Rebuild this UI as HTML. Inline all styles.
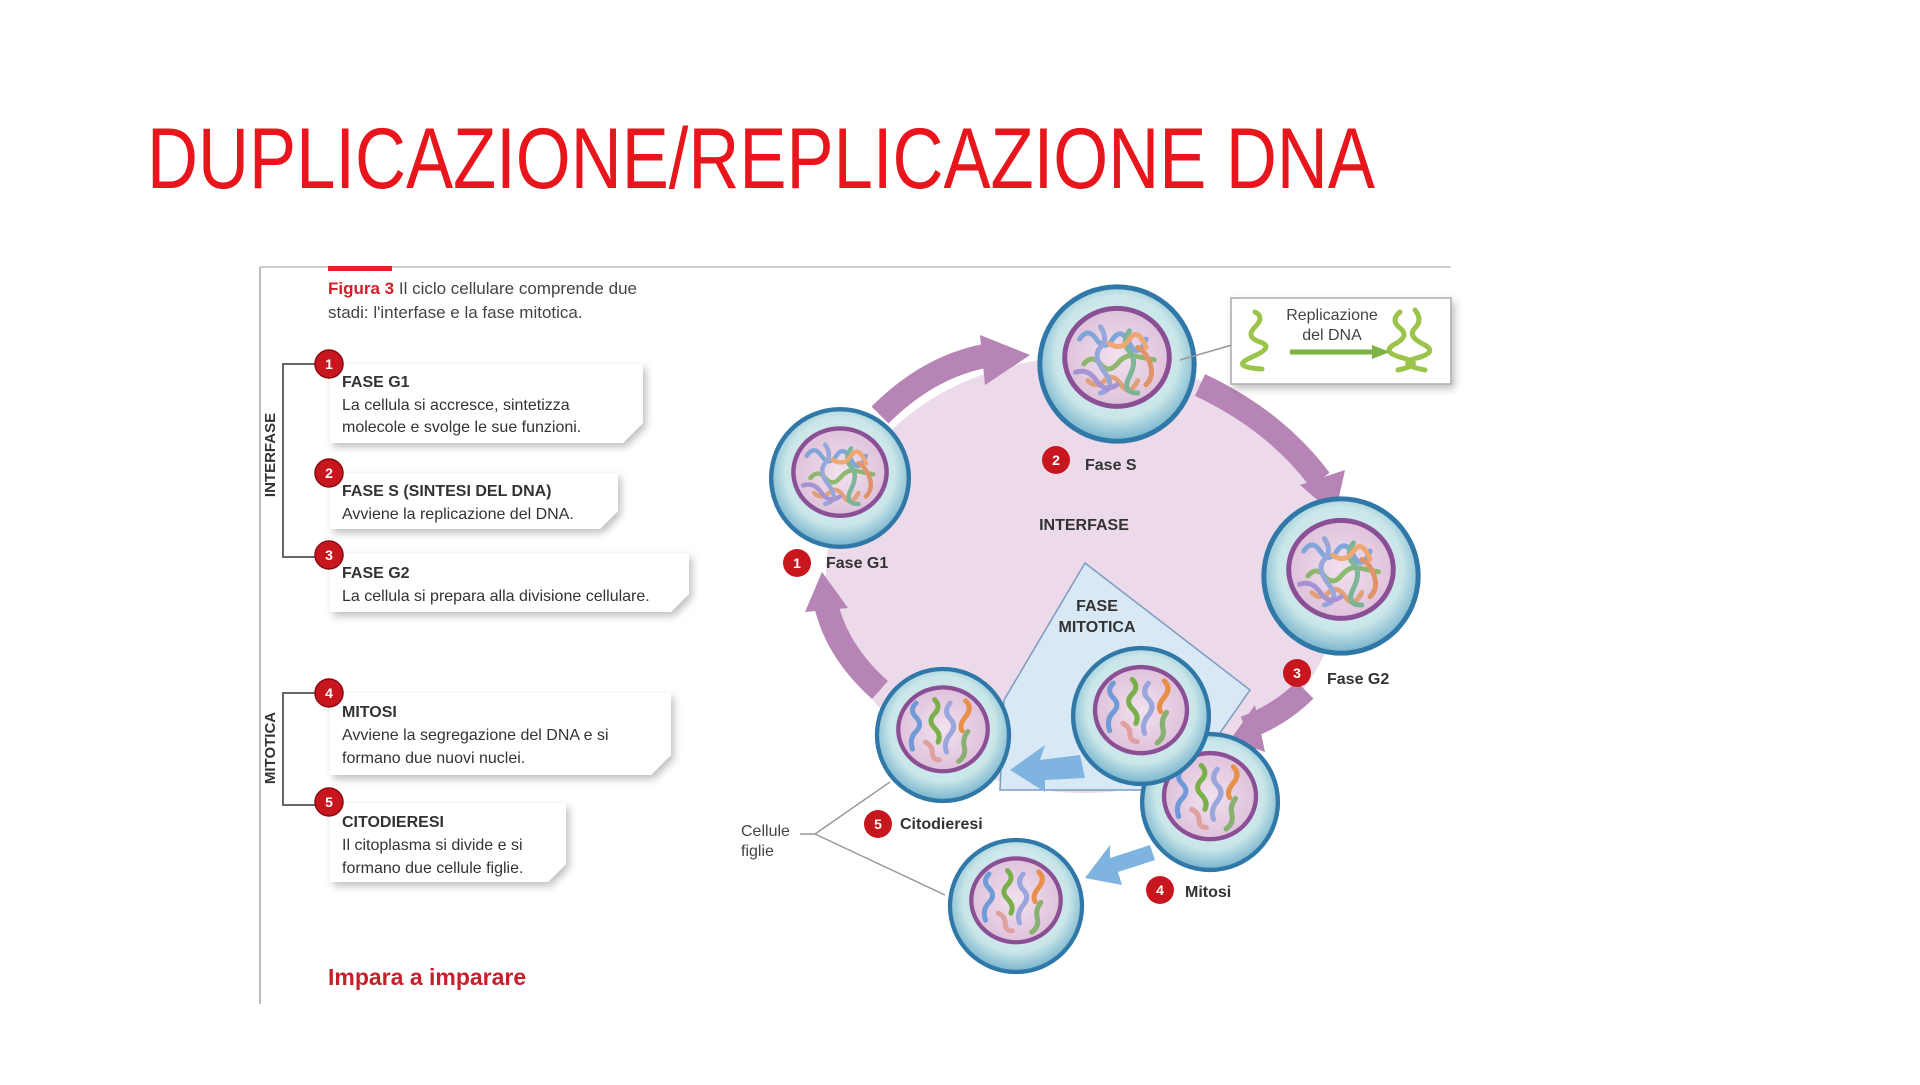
<!DOCTYPE html>
<html><head><meta charset="utf-8"><style>
html,body{margin:0;padding:0;background:#fff;}
body{width:1920px;height:1080px;overflow:hidden;position:relative;font-family:"Liberation Sans",sans-serif;}
svg text{font-family:"Liberation Sans",sans-serif;}
</style></head><body>
<svg width="1920" height="1080" viewBox="0 0 1920 1080" xmlns="http://www.w3.org/2000/svg">
<defs>
<radialGradient id="cyto" cx="50%" cy="45%" r="55%">
<stop offset="0" stop-color="#e6f4f4"/><stop offset="0.75" stop-color="#c9e6e8"/><stop offset="1" stop-color="#7fb8d0"/></radialGradient>
<radialGradient id="nuc" cx="50%" cy="50%" r="50%">
<stop offset="0" stop-color="#f1e1ee"/><stop offset="1" stop-color="#e0c3dc"/></radialGradient>
<filter id="sh" x="-10%" y="-10%" width="130%" height="140%"><feDropShadow dx="3" dy="4" stdDeviation="4" flood-color="#000" flood-opacity="0.25"/></filter>
<symbol id="cellI" viewBox="-100 -100 200 200">
<circle r="96" fill="#2f78a8"/><circle r="90" fill="url(#cyto)"/>
<ellipse cx="0" cy="-8" rx="66" ry="62" fill="#8b4f96"/><ellipse cx="0" cy="-8" rx="60" ry="56" fill="url(#nuc)"/>
<g fill="none" stroke-width="6" stroke-linecap="round" opacity="0.85">
<path d="M-45 -30 q10 -15 20 0 t20 0 t20 5 t20 -5" stroke="#6fa0d8"/>
<path d="M-40 0 q10 -12 20 0 t20 0 t20 -10 t25 5" stroke="#7fb35a"/>
<path d="M-35 20 q10 10 20 0 t20 5 t20 -5" stroke="#e09a66"/>
<path d="M-20 -45 q10 15 0 25 t5 30 t-5 25" stroke="#8aa0d8"/>
<path d="M15 -40 q-10 15 0 25 t0 30 t10 20" stroke="#6ab08a"/>
<path d="M25 -20 q10 5 15 20 t-5 25" stroke="#e08a55"/>
<path d="M-50 10 q15 -5 25 10 t25 5" stroke="#9a8ad0"/>
<path d="M-10 -25 q15 10 25 -5 t20 10" stroke="#f0a060"/>
</g></symbol>
<symbol id="cellM" viewBox="-100 -100 200 200">
<circle r="96" fill="#2f78a8"/><circle r="90" fill="url(#cyto)"/>
<ellipse cx="0" cy="-8" rx="66" ry="62" fill="#8b4f96"/><ellipse cx="0" cy="-8" rx="60" ry="56" fill="url(#nuc)"/>
<g fill="none" stroke-width="7" stroke-linecap="round">
<path d="M-38 -45 q-10 10 0 20 t0 20 t-5 25" stroke="#6f9ad8"/>
<path d="M-12 -50 q10 10 0 20 t0 20 t5 20" stroke="#7ab04a"/>
<path d="M10 -45 q-10 12 0 22 t0 22 t-5 25" stroke="#9aa6dc"/>
<path d="M32 -48 q10 10 0 22 t-5 20" stroke="#e8904a"/>
<path d="M-25 10 q10 5 10 15 t10 10" stroke="#e0a0a0"/>
<path d="M35 -5 q-8 10 -5 22 t-8 20" stroke="#88b070"/>
</g></symbol>
</defs>

<!-- Title -->
<text x="147" y="188" font-size="86" fill="#e8161c" textLength="1228" lengthAdjust="spacingAndGlyphs">DUPLICAZIONE/REPLICAZIONE DNA</text>

<!-- frame -->
<line x1="260" y1="267" x2="1451" y2="267" stroke="#cfcfcf" stroke-width="2"/>
<line x1="260" y1="267" x2="260" y2="1004" stroke="#bdbdbd" stroke-width="2"/>
<rect x="328" y="266" width="64" height="5" fill="#e3202a"/>
<text x="328" y="294" font-size="17" fill="#444"><tspan fill="#d0202a" font-weight="bold">Figura 3</tspan> Il ciclo cellulare comprende due</text>
<text x="328" y="318" font-size="17" fill="#444">stadi: l'interfase e la fase mitotica.</text>

<!-- brackets -->
<path d="M328 364 H283 V557 H328" fill="none" stroke="#666" stroke-width="2"/>
<path d="M328 693 H283 V805 H328" fill="none" stroke="#666" stroke-width="2"/>
<text transform="translate(275,455) rotate(-90)" font-size="15" font-weight="bold" fill="#333" text-anchor="middle">INTERFASE</text>
<text transform="translate(275,748) rotate(-90)" font-size="15" font-weight="bold" fill="#333" text-anchor="middle">MITOTICA</text>

<!-- boxes -->
<g filter="url(#sh)" fill="#fff">
<path d="M330 364 H643 V423 L623 443 H330 Z"/>
<path d="M330 473 H618 V511 L600 529 H330 Z"/>
<path d="M330 553 H689 V594 L671 612 H330 Z"/>
<path d="M330 693 H671 V755 L651 775 H330 Z"/>
<path d="M330 803 H566 V864 L548 882 H330 Z"/>
</g>
<g fill="#c8161e" stroke="#8a0a10" stroke-width="1.5">
<circle cx="329" cy="364" r="14"/><circle cx="329" cy="473" r="14"/><circle cx="329" cy="555" r="14"/>
<circle cx="329" cy="693" r="14"/><circle cx="329" cy="802" r="14"/>
</g>
<g fill="#fff" font-size="14" font-weight="bold" text-anchor="middle">
<text x="329" y="369">1</text><text x="329" y="478">2</text><text x="329" y="560">3</text><text x="329" y="698">4</text><text x="329" y="807">5</text>
</g>
<g font-size="16" fill="#333">
<text x="342" y="387" font-weight="bold">FASE G1</text>
<text x="342" y="410">La cellula si accresce, sintetizza</text>
<text x="342" y="432">molecole e svolge le sue funzioni.</text>
<text x="342" y="496" font-weight="bold">FASE S (SINTESI DEL DNA)</text>
<text x="342" y="519">Avviene la replicazione del DNA.</text>
<text x="342" y="578" font-weight="bold">FASE G2</text>
<text x="342" y="601">La cellula si prepara alla divisione cellulare.</text>
<text x="342" y="717" font-weight="bold">MITOSI</text>
<text x="342" y="740">Avviene la segregazione del DNA e si</text>
<text x="342" y="763">formano due nuovi nuclei.</text>
<text x="342" y="827" font-weight="bold">CITODIERESI</text>
<text x="342" y="850">Il citoplasma si divide e si</text>
<text x="342" y="873">formano due cellule figlie.</text>
</g>
<text x="328" y="985" font-size="23" font-weight="bold" fill="#c8202a">Impara a imparare</text>

<!-- diagram -->
<ellipse cx="1084" cy="575" rx="258" ry="218" fill="#ecd9ea"/>
<polygon points="1085,563 1250,690 1180,790 1000,790 1004,700" fill="#d8e9f5" stroke="#7a9cc0" stroke-width="1.5"/>
<!-- purple arrows -->
<g fill="none" stroke="#b784b6" stroke-width="24">
<path d="M880 415 Q930 365 990 355"/>
<path d="M1200 385 Q1275 420 1320 480"/>
<path d="M1305 690 Q1280 715 1245 728"/>
<path d="M880 690 Q835 650 825 600"/>
</g>
<g fill="#b784b6">
<polygon points="980,335 1030,355 985,385"/>
<polygon points="1300,485 1345,470 1335,515"/>
<polygon points="1255,705 1230,740 1265,752"/>
<polygon points="805,612 822,572 848,608"/>
</g>
<!-- blue arrows -->
<g fill="#7fb4e0">
<path d="M1080 755 L1040 760 L1045 745 L1010 770 L1045 792 L1045 780 L1085 778 Z"/>
<path d="M1150 845 L1110 858 L1110 845 L1085 878 L1122 885 L1118 872 L1155 860 Z"/>
</g>
<!-- cells -->
<use href="#cellI" x="1034" y="281" width="166" height="166"/>
<use href="#cellI" x="766" y="404" width="148" height="148"/>
<use href="#cellI" x="1258" y="493" width="166" height="166"/>
<use href="#cellM" x="872" y="664" width="142" height="142"/>
<use href="#cellM" x="1137" y="729" width="146" height="146"/>
<use href="#cellM" x="1068" y="643" width="146" height="146"/>
<use href="#cellM" x="945" y="835" width="142" height="142"/>
<!-- replication box -->
<line x1="1180" y1="360" x2="1232" y2="345" stroke="#999" stroke-width="1.5"/>
<rect x="1231" y="298" width="220" height="86" fill="#fff" stroke="#aaa" stroke-width="1.5" filter="url(#sh)"/>
<g fill="none" stroke="#9cc44a" stroke-width="5" stroke-linecap="round">
<path d="M1255 312 q10 5 0 15 t5 15 t-8 15 t10 12"/>
<path d="M1400 312 q-10 8 0 16 t-5 16 t8 14 t-5 12"/>
<path d="M1415 310 q8 10 0 18 t8 16 t-6 14 t8 12"/>
</g>
<line x1="1290" y1="352" x2="1375" y2="352" stroke="#7cb342" stroke-width="5"/>
<polygon points="1372,345 1390,352 1372,359" fill="#7cb342"/>
<text x="1332" y="320" font-size="16" fill="#444" text-anchor="middle">Replicazione</text>
<text x="1332" y="340" font-size="16" fill="#444" text-anchor="middle">del DNA</text>
<!-- labels -->
<g fill="#c8161e"><circle cx="1056" cy="460" r="14"/><circle cx="797" cy="563" r="14"/><circle cx="1297" cy="673" r="14"/><circle cx="878" cy="824" r="14"/><circle cx="1160" cy="890" r="14"/></g>
<g fill="#fff" font-size="14" font-weight="bold" text-anchor="middle">
<text x="1056" y="465">2</text><text x="797" y="568">1</text><text x="1297" y="678">3</text><text x="878" y="829">5</text><text x="1160" y="895">4</text></g>
<g font-size="16" font-weight="bold" fill="#333">
<text x="1085" y="470">Fase S</text><text x="826" y="568">Fase G1</text><text x="1327" y="684">Fase G2</text>
<text x="900" y="829">Citodieresi</text><text x="1185" y="897">Mitosi</text>
<text x="1084" y="530" text-anchor="middle">INTERFASE</text>
<text x="1097" y="611" text-anchor="middle">FASE</text><text x="1097" y="632" text-anchor="middle">MITOTICA</text>
</g>
<path d="M815 834 L890 782 M815 834 L945 895" stroke="#999" stroke-width="1.5" fill="none"/>
<line x1="800" y1="834" x2="815" y2="834" stroke="#999" stroke-width="1.5"/>
<text x="741" y="836" font-size="16" fill="#444">Cellule</text>
<text x="741" y="856" font-size="16" fill="#444">figlie</text>
</svg>
</body></html>
